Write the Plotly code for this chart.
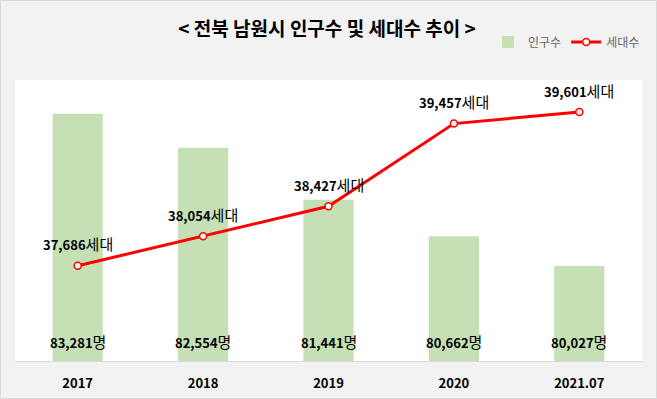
import plotly.graph_objects as go

years = ["2017", "2018", "2019", "2020", "2021.07"]
population = [83281, 82554, 81441, 80662, 80027]
households = [37686, 38054, 38427, 39457, 39601]

FONT = "Noto Sans CJK KR"

fig = go.Figure()
fig.add_trace(go.Bar(
    x=years, y=population, name="인구수",
    marker=dict(color="#c5e0b4", line=dict(width=0)),
    yaxis="y",
))
fig.add_trace(go.Scatter(
    x=years, y=households, name="세대수", mode="lines+markers",
    line=dict(color="#ff0000", width=3),
    marker=dict(size=7, color="white", line=dict(color="#ff0000", width=1.5)),
    yaxis="y2",
))

annotations = []
for i, p in enumerate(population):
    annotations.append(dict(
        x=i, y=78000, xref="x", yref="y", yanchor="bottom", yshift=7,
        text=f"<b>{p:,}</b><span style='font-size:15px'>명</span>",
        showarrow=False, font=dict(family=FONT, size=13, color="#000000"),
    ))
for i, h in enumerate(households):
    annotations.append(dict(
        x=i, y=h, xref="x", yref="y2", yanchor="middle", yshift=22,
        text=f"<b>{h:,}</b><span style='font-size:15px'>세대</span>",
        showarrow=False, font=dict(family=FONT, size=13, color="#000000"),
    ))

L, R, T, B = 15, 15, 80, 38
W, H = 657, 399
pw, ph = W - L - R, H - T - B

fig.update_layout(
    width=W, height=H,
    margin=dict(l=L, r=R, t=T, b=B, autoexpand=False),
    paper_bgcolor="#f2f2f2", plot_bgcolor="#ffffff",
    font=dict(family=FONT, color="#000000"),
    title=dict(text="<b>< 전북 남원시 인구수 및 세대수 추이 ></b>",
               x=327 / W, xanchor="center", y=1 - 29 / H, yanchor="middle",
               font=dict(family=FONT, size=19, color="#000000")),
    bargap=0.6,
    showlegend=True,
    legend=dict(orientation="h", x=(488 - L) / pw, y=1 + (T - 42) / ph,
                xanchor="left", yanchor="middle",
                font=dict(family=FONT, size=12, color="#666666"),
                bgcolor="rgba(0,0,0,0)"),
    xaxis=dict(type="category", range=[-0.5, len(years) - 0.5],
               tickmode="array", tickvals=years, ticktext=[f"<b>{y}</b>" for y in years],
               showgrid=False, showline=True, linecolor="#d9d9d9",
               linewidth=1, ticks="outside", ticklen=10, tickcolor="rgba(0,0,0,0)",
               tickangle=0,
               tickfont=dict(family=FONT, size=13, color="#000000"), zeroline=False),
    yaxis=dict(range=[78000, 84000], visible=False, showgrid=False, zeroline=False),
    yaxis2=dict(range=[36500, 40000], visible=False, showgrid=False, zeroline=False,
                overlaying="y", side="right"),
    annotations=annotations,
    shapes=[dict(type="rect", xref="paper", yref="paper",
                 x0=(0.5 - L) / pw, x1=(W - 0.5 - L) / pw,
                 y0=-(B - 0.5) / ph, y1=1 + (T - 0.5) / ph,
                 line=dict(color="#d9d9d9", width=1), fillcolor="rgba(0,0,0,0)", layer="below")],
)

fig.write_html("out.html", config={"displayModeBar": False},
               post_script="document.body.style.margin='0';")
